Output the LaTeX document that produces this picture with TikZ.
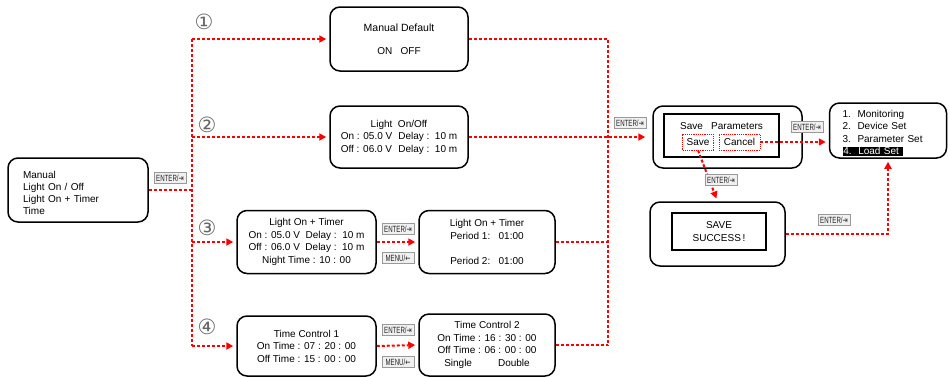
\documentclass[tikz,border=0pt]{standalone}
\usepackage{graphicx}
\usepackage{fontspec}
\setmainfont{Liberation Sans}
\newfontfamily\dvfont{DejaVu Sans}
\usetikzlibrary{arrows.meta,calc}
\newcommand\enterkey{\scalebox{0.68}[1]{ENTER/{\dvfont ⇥}}}
\newcommand\menukey{\scalebox{0.68}[1]{MENU/{\dvfont ←}}}
\begin{document}
\begin{tikzpicture}[x=1pt,y=-1pt,
  box/.style={draw=black, line width=1.5pt, rounded corners=10pt, align=center, font=\fontsize{10}{12.5}\selectfont, inner sep=0pt},
  scr/.style={draw=black, line width=1.5pt, inner sep=0pt, align=center, font=\fontsize{10}{12.5}\selectfont},
  rline/.style={draw=red, line width=2pt, dash pattern=on 3pt off 2pt},
  rarr/.style={rline, -{Triangle[width=7pt,length=7pt]}, shorten >=3pt},
  rbox/.style={draw=red, line width=0.7pt, dash pattern=on 1.2pt off 1pt, inner sep=0pt, font=\fontsize{10}{12.5}\selectfont},
  keylbl/.style={draw=gray!80, fill=gray!12, line width=0.7pt, inner sep=0.8pt, minimum width=32pt, minimum height=11.5pt, font=\fontsize{9}{9}\selectfont, text=black!85},
  num/.style={font=\dvfont\fontsize{21}{21}\selectfont, inner sep=0pt, text=black!60},
  txt/.style={inner sep=0pt, font=\fontsize{10}{12.5}\selectfont},
]
\useasboundingbox (0,0) rectangle (949,376);

% boxes
\node[box, minimum width=140, minimum height=64, text width=110, align=left] (L) at (78,190)
  {\rule{0pt}{13pt}Manual\\[-0.5pt]Light On / Off\\[-0.5pt]Light On + Timer\\[-0.5pt]Time};
\node[box, minimum width=138, minimum height=64] (MD) at (399,39)
  {\fontsize{10.5}{12.5}\selectfont Manual Default\\[11pt]ON\ \ \ OFF};
\node[box, minimum width=138, minimum height=62] (LO) at (399,137)
  {\begin{tabular}{@{}l@{\hspace{6pt}}l@{}}\multicolumn{2}{c}{Light\ \ On/Off}\\
   On : 05.0 V & Delay :\ \ 10 m\\ Off : 06.0 V & Delay :\ \ 10 m\end{tabular}};
\node[box, minimum width=139, minimum height=63] (LT1) at (306.5,242)
  {Light On + Timer\\On : 05.0 V\ \ Delay :\ \ 10 m\\Off : 06.0 V\ \ Delay :\ \ 10 m\\Night Time : 10 : 00};
\node[box, minimum width=136, minimum height=63] (LT2) at (487,242)
  {Light On + Timer\\Period 1:\ \ \ 01:00\\[12.5pt]Period 2:\ \ \ 01:00};
\node[box, minimum width=139, minimum height=60] (TC1) at (306.5,346)
  {Time Control 1\\On Time : 07 : 20 : 00\\Off Time : 15 : 00 : 00};
\node[box, minimum width=136, minimum height=62] (TC2) at (487,345)
  {Time Control 2\\On Time : 16 : 30 : 00\\Off Time : 06 : 00 : 00\\Single\hspace{26pt}Double};

% save parameters screen
\node[box, minimum width=149, minimum height=62] (SP) at (727.5,137) {};
\node[scr, minimum width=115, minimum height=43] (SPi) at (721.5,135.5) {};
\node[txt] (SPt) at (721.5,126.5) {Save\ \ \ Parameters};
\node[rbox, minimum width=31, minimum height=16] (SaveB) at (698,142) {Save};
\node[rbox, minimum width=41, minimum height=16] (Cancel) at (739.5,142) {Cancel};

% menu
\node[box, minimum width=117, minimum height=55, text width=91, align=left] (Menu) at (888,130.5)
  {\rule{0pt}{12pt}1.\ \ Monitoring\\2.\ \ Device Set\\3.\ \ Parameter Set\\{\setlength\fboxsep{0.8pt}\colorbox{black}{\color{white}4.\ \ Load Set\ }}};

% save success
\node[box, minimum width=135, minimum height=64] (SSo) at (717.5,234) {};
\node[scr, minimum width=94, minimum height=37] (SSi) at (719,231.5) {SAVE\\SUCCESS\,!};

% junction coordinates
\coordinate (J) at (192,190);
\coordinate (Jt) at (192,39);
\coordinate (Jb) at (192,346);
\coordinate (Rt) at (608,39);
\coordinate (Rb) at (608,345);

% connectors
\draw[rline] (L.east) -- (J);
\draw[rline] (Jt) -- (Jb);
\draw[rarr] (Jt) -- (MD.west);
\draw[rarr] (J |- LO.west) -- (LO.west);
\draw[rarr] (J |- LT1.west) -- (LT1.west);
\draw[rarr] (Jb) -- (TC1.west);
\draw[rline] (MD.east) -- (Rt) -- (Rb);
\draw[rline] (LT2.east) -- (LT2.east -| Rt);
\draw[rline] (TC2.east) -- (Rb);
\draw[rarr, shorten >=7pt] (LO.east) -- (SP.west);
\draw[rarr] (LT1.east) -- (LT2.west);
\draw[rarr] (TC1.east) -- (TC2.west);
\draw[rarr] (SaveB.south) -- (SSo.north);
\draw[rarr] (Cancel.east) -- (Cancel.east -| Menu.west);
\draw[rarr] (SSo.east) -| (Menu.south);

% circled numbers
\node[num] (n1) at (204,22) {①};
\node[num] (n2) at (207,125) {②};
\node[num] (n3) at (207,228) {③};
\node[num] (n4) at (207,327) {④};

% key labels
\node[keylbl] (k1) at (170,178) {\enterkey};
\node[keylbl] (k2) at (630,123) {\enterkey};
\node[keylbl] (k3) at (807,127) {\enterkey};
\node[keylbl] (k4) at (721,180) {\enterkey};
\node[keylbl] (k5) at (834,220) {\enterkey};
\node[keylbl] (k6) at (398,229) {\enterkey};
\node[keylbl] (k7) at (398,258) {\menukey};
\node[keylbl] (k8) at (398,330) {\enterkey};
\node[keylbl] (k9) at (398,362) {\menukey};
\end{tikzpicture}
\end{document}
